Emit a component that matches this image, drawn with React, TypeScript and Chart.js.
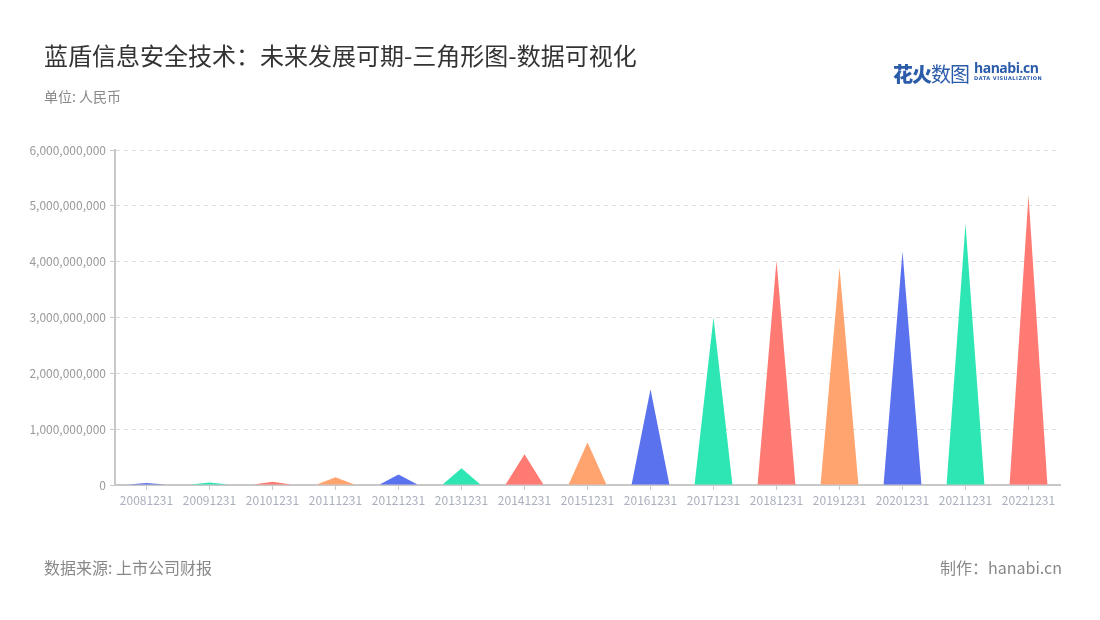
import React, { useEffect, useRef } from "react";
import { Chart, registerables } from "chart.js";

Chart.register(...registerables);

const categories = [
  "20081231", "20091231", "20101231", "20111231", "20121231",
  "20131231", "20141231", "20151231", "20161231", "20171231",
  "20181231", "20191231", "20201231", "20211231", "20221231",
];

const revenue = [
  35000000, 46000000, 60000000, 140000000, 190000000,
  300000000, 550000000, 760000000, 1714000000, 3000000000,
  4020000000, 3900000000, 4180000000, 4680000000, 5190000000,
];

const palette = ["#5B72EE", "#2EE6B3", "#FF7A72", "#FFA46F"];

const yTicks = [0, 1000000000, 2000000000, 3000000000, 4000000000, 5000000000, 6000000000];

const FONT = '"Noto Sans CJK SC", "Noto Sans", sans-serif';

const trianglePlugin = {
  id: "triangles",
  afterDatasetsDraw(chart: any) {
    const ctx = chart.ctx;
    const meta = chart.getDatasetMeta(0);
    meta.data.forEach((bar: any, i: number) => {
      const { x, y, base, width } = bar.getProps(["x", "y", "base", "width"], true);
      ctx.save();
      ctx.beginPath();
      ctx.moveTo(x - width / 2, base);
      ctx.lineTo(x, y);
      ctx.lineTo(x + width / 2, base);
      ctx.closePath();
      ctx.fillStyle = palette[i % palette.length];
      ctx.fill();
      ctx.restore();
    });
  },
};

function ChartCanvas() {
  const ref = useRef<HTMLCanvasElement | null>(null);
  useEffect(() => {
    if (!ref.current) return;
    const chart = new Chart(ref.current, {
      type: "bar",
      data: {
        labels: categories,
        datasets: [
          {
            data: revenue,
            backgroundColor: "rgba(0,0,0,0)",
            borderWidth: 0,
            barPercentage: 0.6,
            categoryPercentage: 1,
          },
        ],
      },
      options: {
        animation: false,
        responsive: false,
        maintainAspectRatio: false,
        events: [],
        layout: { padding: { left: 0, top: 150, right: 40, bottom: 105 } },
        plugins: { legend: { display: false }, tooltip: { enabled: false } },
        scales: {
          x: {
            offset: true,
            afterFit(scale: any) {
              scale.height = 30;
            },
            grid: {
              display: true,
              offset: false,
              drawOnChartArea: false,
              drawTicks: true,
              tickLength: 5,
              tickColor: "#c8c8c8",
              tickWidth: 1,
            },
            border: { display: true, color: "#c8c8c8", width: 2 },
            ticks: {
              color: "#a9afbb",
              font: { family: FONT, size: 12 },
              padding: 3,
              maxRotation: 0,
              autoSkip: false,
            },
          },
          y: {
            min: 0,
            max: 6000000000,
            afterFit(scale: any) {
              scale.width = 115;
            },
            afterBuildTicks(scale: any) {
              scale.ticks = yTicks.map((v) => ({ value: v }));
            },
            grid: {
              color: "#dddddd",
              tickColor: "#c8c8c8",
              tickLength: 5,
              lineWidth: 1,
              tickBorderDash: [],
            },
            border: { display: true, color: "#c8c8c8", width: 2, dash: [4, 4] },
            ticks: {
              color: "#999999",
              font: { family: FONT, size: 12 },
              padding: 4,
              callback: (v: any) => Number(v).toLocaleString("en-US"),
            },
          },
        },
      },
      plugins: [trianglePlugin],
    });
    return () => chart.destroy();
  }, []);
  return (
    <canvas
      ref={ref}
      width={1100}
      height={620}
      style={{ position: "absolute", left: 0, top: 0, width: 1100, height: 620 }}
    />
  );
}

export default function App() {
  return (
    <div
      style={{
        position: "fixed",
        left: 0,
        top: 0,
        width: 1100,
        height: 620,
        background: "#fff",
        fontFamily: FONT,
        overflow: "hidden",
      }}
    >
      <ChartCanvas />
      <div
        style={{
          position: "absolute",
          left: 44,
          top: 38,
          fontSize: 24,
          color: "#333",
          lineHeight: "34px",
          whiteSpace: "nowrap",
        }}
      >
        蓝盾信息安全技术：未来发展可期-三角形图-数据可视化
      </div>
      <div
        style={{
          position: "absolute",
          left: 44,
          top: 86,
          fontSize: 14,
          color: "#888",
          lineHeight: "20px",
        }}
      >
        单位: 人民币
      </div>
      <div
        style={{
          position: "absolute",
          left: 893,
          top: 60,
          height: 26,
          display: "flex",
          alignItems: "center",
          whiteSpace: "nowrap",
        }}
      >
        <span style={{ fontSize: 20, fontWeight: 900, color: "#2a5caa", letterSpacing: -1 }}>花火</span>
        <span style={{ fontSize: 20, fontWeight: 400, color: "#2a5caa", letterSpacing: -1 }}>数图</span>
        <span style={{ display: "inline-block", marginLeft: 5, position: "relative", top: -2 }}>
          <span
            style={{
              display: "block",
              fontFamily: '"Open Sans", sans-serif',
              fontSize: 14,
              fontWeight: 700,
              color: "#2a5caa",
              lineHeight: "14px",
              letterSpacing: -0.5,
            }}
          >
            hanabi.cn
          </span>
          <span
            style={{
              display: "block",
              fontFamily: '"DejaVu Sans", sans-serif',
              fontSize: 5,
              fontWeight: 700,
              color: "#2a5caa",
              lineHeight: "6px",
              letterSpacing: 0.5,
            }}
          >
            DATA VISUALIZATION
          </span>
        </span>
      </div>
      <div
        style={{
          position: "absolute",
          left: 44,
          top: 556,
          fontSize: 16,
          color: "#888",
          lineHeight: "22px",
        }}
      >
        数据来源: 上市公司财报
      </div>
      <div
        style={{
          position: "absolute",
          right: 38,
          top: 556,
          fontSize: 16,
          color: "#888",
          lineHeight: "22px",
        }}
      >
        制作：hanabi.cn
      </div>
    </div>
  );
}
